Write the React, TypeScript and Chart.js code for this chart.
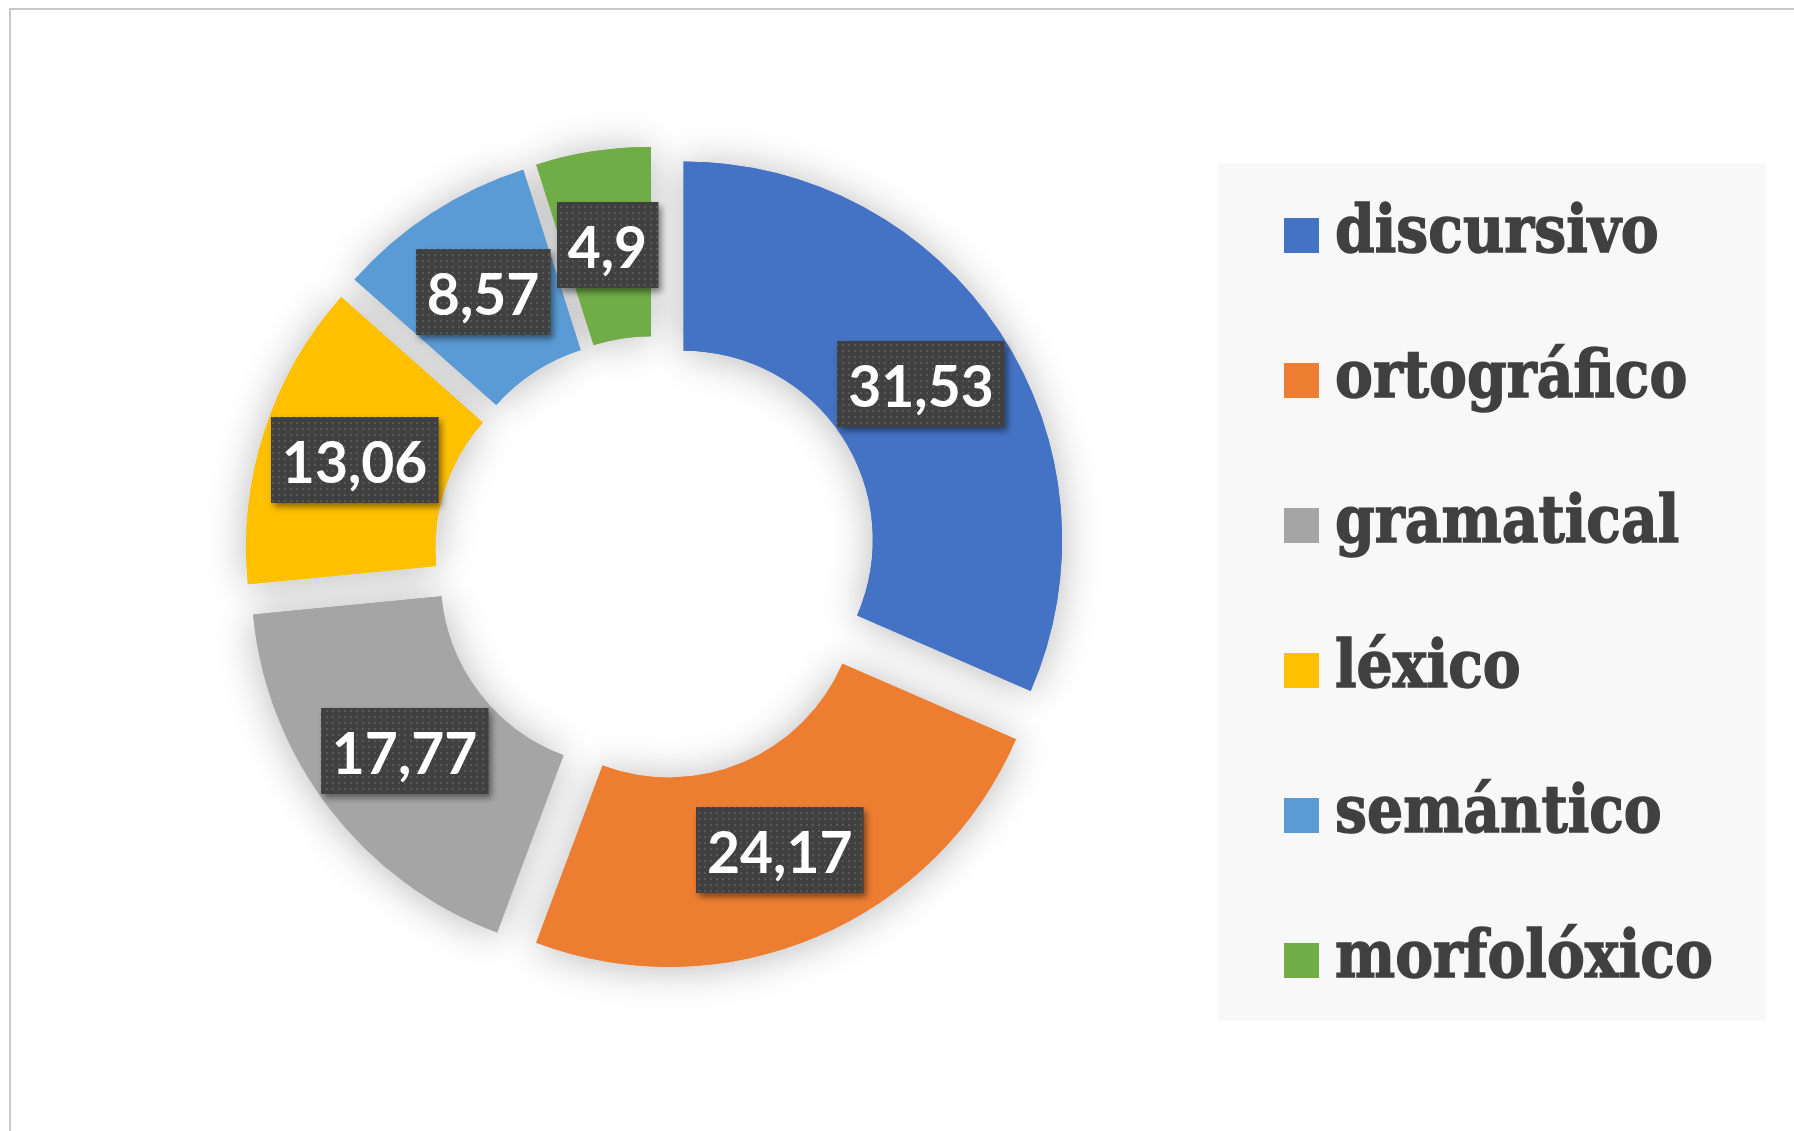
import React, { useEffect, useLayoutEffect, useRef } from "react";
import { Chart, registerables } from "chart.js";

Chart.register(...registerables);

// ---- data ----
const categories = ["discursivo", "ortográfico", "gramatical", "léxico", "semántico", "morfolóxico"];
const values = [31.53, 24.17, 17.77, 13.06, 8.57, 4.9];
const colors = ["#4472C4", "#ED7D31", "#A5A5A5", "#FFC000", "#5B9BD5", "#70AD47"];
const valueLabels = values.map((v) => String(v).replace(".", ","));

// ---- styling constants ----
const W = 1794;
const H = 1131;
const EXPLODE = 33;
const LABEL_FONT = "700 57px Lato";
const LEGEND_FONT_SIZE = 66;
const LEGEND_TARGET_WIDTH = 378; // width of longest label in reference

function makePattern(ctx: CanvasRenderingContext2D) {
  const tile = document.createElement("canvas");
  tile.width = 6;
  tile.height = 6;
  const t = tile.getContext("2d")!;
  t.fillStyle = "#404040";
  t.fillRect(0, 0, 6, 6);
  t.fillStyle = "#585858";
  t.fillRect(2, 2, 2, 2);
  return ctx.createPattern(tile, "repeat");
}

const explodePlugin = {
  id: "explode",
  beforeDatasetDraw(chart: any, args: any) {
    const meta = chart.getDatasetMeta(args.index);
    const ctx: CanvasRenderingContext2D = chart.ctx;
    const drawAll = (shadow: boolean) => {
      meta.data.forEach((arc: any) => {
        const { startAngle, endAngle } = arc.getProps(["startAngle", "endAngle"], true);
        const mid = (startAngle + endAngle) / 2;
        ctx.save();
        ctx.translate(Math.cos(mid) * EXPLODE, Math.sin(mid) * EXPLODE);
        if (shadow) {
          ctx.shadowColor = "rgba(0,0,0,0.28)";
          ctx.shadowBlur = 40;
          ctx.shadowOffsetX = 0;
          ctx.shadowOffsetY = 2;
        }
        arc.draw(ctx);
        ctx.restore();
      });
    };
    drawAll(true);
    drawAll(false);
    return false;
  },
};

const labelPlugin = {
  id: "valueBoxes",
  afterDatasetsDraw(chart: any) {
    const ctx: CanvasRenderingContext2D = chart.ctx;
    const meta = chart.getDatasetMeta(0);
    const pattern = makePattern(ctx);
    meta.data.forEach((arc: any, i: number) => {
      const { x, y, startAngle, endAngle, innerRadius, outerRadius } = arc.getProps(
        ["x", "y", "startAngle", "endAngle", "innerRadius", "outerRadius"],
        true
      );
      const mid = (startAngle + endAngle) / 2;
      const r = (innerRadius + outerRadius) / 2 + EXPLODE;
      const cx = x + Math.cos(mid) * r;
      const cy = y + Math.sin(mid) * r;
      const text = valueLabels[i];
      ctx.save();
      ctx.font = LABEL_FONT;
      const tw = ctx.measureText(text).width;
      const bw = tw + 22;
      const bh = 86;
      const bx = Math.round(cx - bw / 2);
      const by = Math.round(cy - bh / 2);
      ctx.shadowColor = "rgba(0,0,0,0.45)";
      ctx.shadowBlur = 6;
      ctx.shadowOffsetX = 3;
      ctx.shadowOffsetY = 4;
      ctx.fillStyle = pattern || "#404040";
      ctx.fillRect(bx, by, bw, bh);
      ctx.shadowColor = "transparent";
      ctx.shadowBlur = 0;
      ctx.shadowOffsetX = 0;
      ctx.shadowOffsetY = 0;
      ctx.fillStyle = "#ffffff";
      ctx.textAlign = "center";
      ctx.textBaseline = "alphabetic";
      ctx.fillText(text, cx, cy + 23);
      ctx.restore();
    });
  },
};

export default function App() {
  const canvasRef = useRef<HTMLCanvasElement | null>(null);
  const legendRefs = useRef<(HTMLSpanElement | null)[]>([]);

  useEffect(() => {
    const canvas = canvasRef.current;
    if (!canvas) return;
    const chart = new Chart(canvas, {
      type: "doughnut",
      data: {
        labels: categories,
        datasets: [
          {
            data: values,
            backgroundColor: colors,
            borderWidth: 0,
            hoverOffset: 0,
          },
        ],
      },
      options: {
        responsive: false,
        animation: false,
        cutout: "50%",
        rotation: 0,
        layout: {
          padding: { left: 277.5, top: 179.5, right: 759.5, bottom: 194.5 },
        },
        plugins: {
          legend: { display: false },
          tooltip: { enabled: false },
        },
        events: [],
      },
      plugins: [explodePlugin, labelPlugin],
    });
    return () => chart.destroy();
  }, []);

  useLayoutEffect(() => {
    const spans = legendRefs.current;
    let maxW = 0;
    spans.forEach((s) => {
      if (s) maxW = Math.max(maxW, s.offsetWidth);
    });
    if (maxW > 0) {
      const sc = LEGEND_TARGET_WIDTH / maxW;
      spans.forEach((s) => {
        if (s) s.style.transform = `scaleX(${sc})`;
      });
    }
  }, []);

  return (
    <div
      style={{
        position: "fixed",
        left: 0,
        top: 0,
        width: W,
        height: H,
        overflow: "hidden",
        background: "#ffffff",
      }}
    >
      <div
        style={{
          position: "absolute",
          left: 9,
          top: 8,
          width: W + 50,
          height: H + 50,
          borderTop: "2px solid #c8c8c8",
          borderLeft: "2px solid #c8c8c8",
          boxSizing: "border-box",
        }}
      />
      <canvas
        ref={canvasRef}
        width={W}
        height={H}
        style={{ position: "absolute", left: 0, top: 0, width: W, height: H }}
      />
      <div
        style={{
          position: "absolute",
          left: 1218,
          top: 163,
          width: 548,
          height: 858,
          background: "#f8f8f8",
        }}
      >
        {categories.map((c, i) => (
          <div key={c}>
            <div
              style={{
                position: "absolute",
                left: 66,
                top: 55 + 145 * i,
                width: 35,
                height: 35,
                background: colors[i],
              }}
            />
            <span
              ref={(el) => {
                legendRefs.current[i] = el;
              }}
              style={{
                position: "absolute",
                left: 117,
                top: 89 + 145 * i - Math.round(LEGEND_FONT_SIZE * 0.846),
                fontFamily: "'DejaVu Serif'",
                fontWeight: 700,
                fontSize: LEGEND_FONT_SIZE,
                lineHeight: 1,
                color: "#404040",
                WebkitTextStroke: "1.5px #404040",
                whiteSpace: "nowrap",
                transformOrigin: "left center",
                display: "inline-block",
              }}
            >
              {c}
            </span>
          </div>
        ))}
      </div>
    </div>
  );
}
